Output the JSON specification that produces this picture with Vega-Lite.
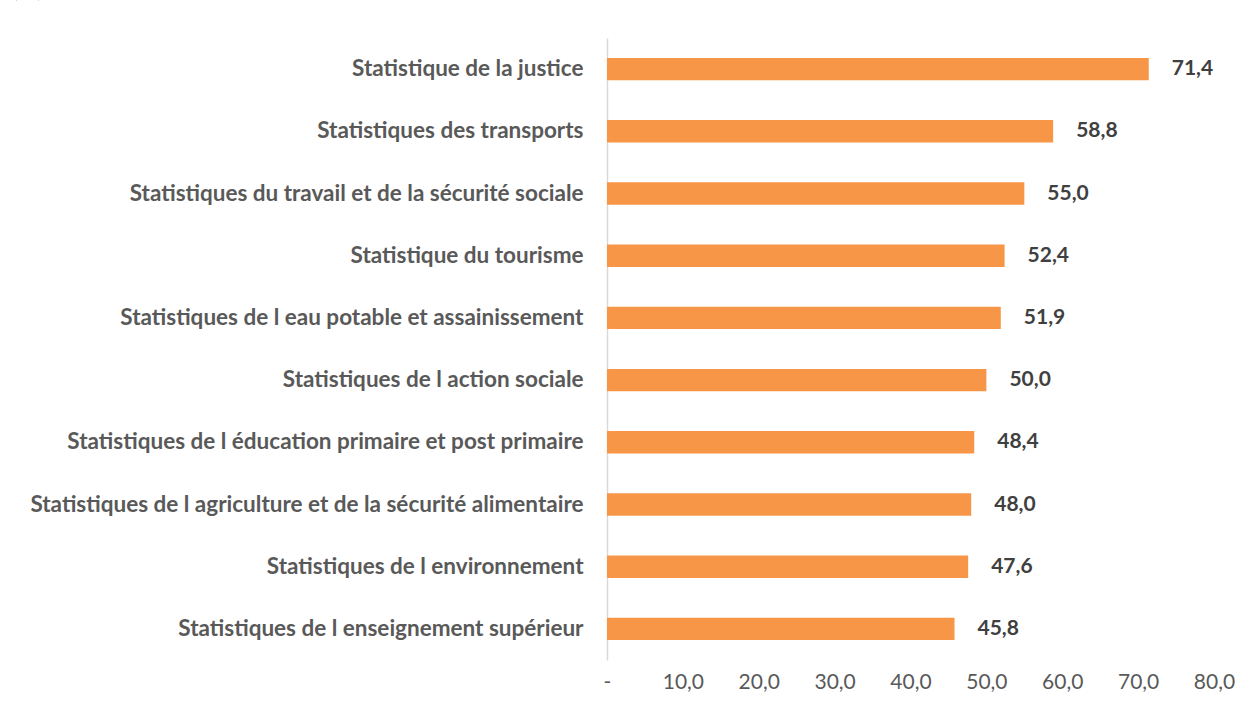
{
  "$schema": "https://vega.github.io/schema/vega-lite/v6.json",
  "width": 607,
  "height": 622,
  "autosize": {"type": "none"},
  "padding": {"left": 607, "top": 38, "right": 44, "bottom": 42},
  "background": "white",
  "config": {
    "locale": {"number": {"decimal": ",", "thousands": " ", "grouping": [3], "currency": ["", " €"]}},
    "view": {"stroke": null},
    "font": "Lato"
  },
  "title": {"text": "(%)", "anchor": "start", "frame": "group", "dx": -595, "dy": 11, "offset": 24, "fontSize": 23, "fontWeight": "normal", "color": "#000000", "baseline": "bottom"},
  "data": {"values": [
    {"cat": "Statistique de la justice", "v": 71.4},
    {"cat": "Statistiques des transports", "v": 58.8},
    {"cat": "Statistiques du travail et de la sécurité sociale", "v": 55.0},
    {"cat": "Statistique du tourisme", "v": 52.4},
    {"cat": "Statistiques de l eau potable et assainissement", "v": 51.9},
    {"cat": "Statistiques de l action sociale", "v": 50.0},
    {"cat": "Statistiques de l éducation primaire et post primaire", "v": 48.4},
    {"cat": "Statistiques de l agriculture et de la sécurité alimentaire", "v": 48.0},
    {"cat": "Statistiques de l environnement", "v": 47.6},
    {"cat": "Statistiques de l enseignement supérieur", "v": 45.8}
  ]},
  "encoding": {
    "y": {"field": "cat", "type": "nominal", "sort": null,
      "scale": {"paddingInner": 0.64, "paddingOuter": 0.32},
      "axis": {"title": null, "domain": true, "domainColor": "#D9D9D9", "domainWidth": 1.5, "ticks": false,
        "labelPadding": 24, "labelFontSize": 22.5, "labelFontWeight": "bold", "labelColor": "#595959", "labelLimit": 0}},
    "x": {"field": "v", "type": "quantitative",
      "scale": {"domain": [0, 80], "nice": false},
      "axis": {"title": null, "values": [0, 10, 20, 30, 40, 50, 60, 70, 80], "grid": false, "domain": false, "ticks": false,
        "labelFlush": false, "labelOverlap": false, "labelBound": false,
        "labelPadding": 11, "labelFontSize": 21, "labelColor": "#595959", "labelFont": "Lato",
        "labelExpr": "datum.value == 0 ? '-' : replace(format(datum.value, '.1f'), '.', ',')"}}
  },
  "layer": [
    {"mark": {"type": "bar", "color": "#F79646"}},
    {"mark": {"type": "text", "align": "left", "baseline": "middle", "dx": 23, "fontSize": 21, "fontWeight": "bold", "color": "#404040"},
      "encoding": {"text": {"field": "v", "type": "quantitative", "format": ".1f"}}}
  ]
}
